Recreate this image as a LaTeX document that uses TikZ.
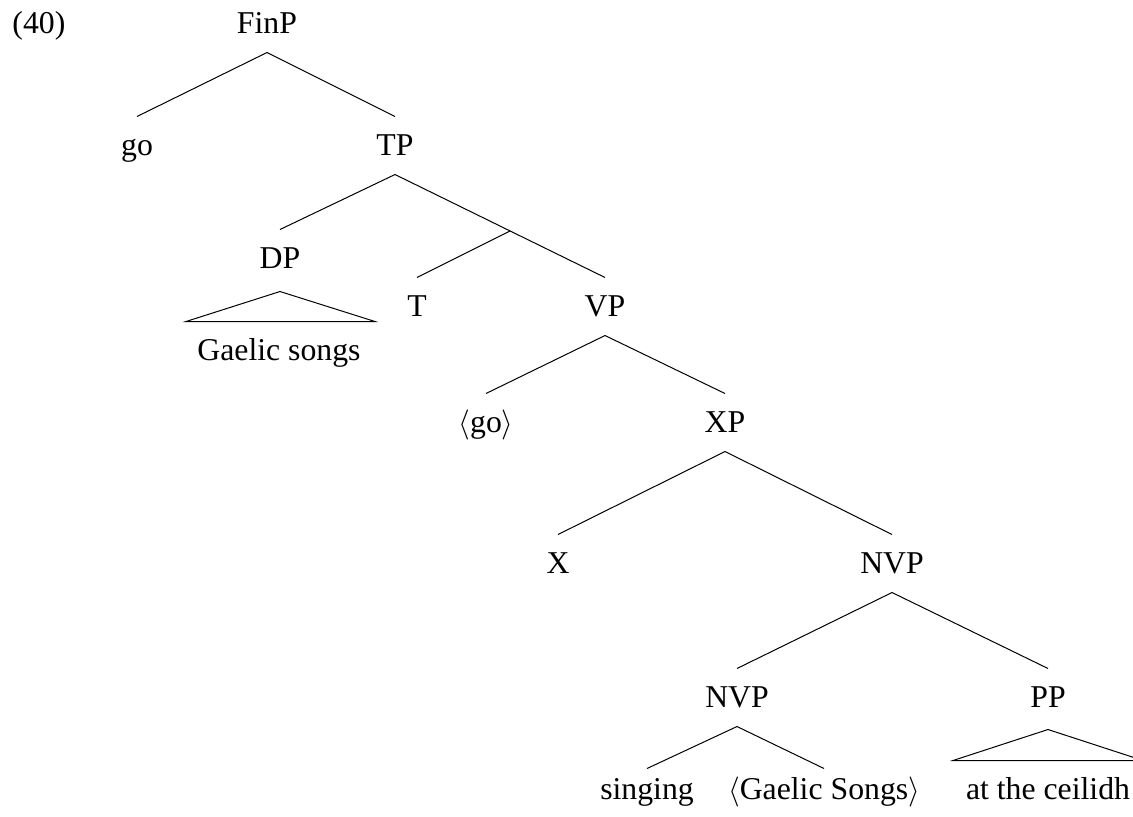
\documentclass[tikz,border=0pt]{standalone}
\usepackage{fontspec}
\setmainfont{Liberation Serif}
\usetikzlibrary{calc}
\begin{document}
\begin{tikzpicture}[x=0.4pt,y=-0.4pt,
  every node/.style={font=\fontsize{12.7pt}{15pt}\selectfont},
  cat/.style={anchor=base, inner xsep=0pt, inner ysep=4.8pt,
              text height=10.4pt, text depth=2.8pt},
  leaf/.style={cat, text height=7.2pt},
  branch/.style={line width=0.4pt},
]
\clip (0,0) rectangle (1133,816);

% example number
\node[anchor=base west, inner sep=0pt] (ex) at (12,33) {(40)};

% labels
\node[cat] (FinP) at (267,33) {FinP};
\node[cat] (go)   at (137,155) {go};
\node[cat] (TP)   at (395,155) {TP};
\node[cat] (DP)   at (280,268) {DP};
\node[cat] (gs)   at (279,360) {Gaelic songs};
\node[cat] (T)    at (417,316) {T};
\node[cat] (VP)   at (605,316) {VP};
\node[cat] (gocopy) at (486,432) {$\langle$go$\rangle$};
\node[cat] (XP)   at (725,432) {XP};
\node[cat] (X)    at (558,573) {X};
\node[cat] (NVPa) at (892,573) {NVP};
\node[cat] (NVPb) at (737,707) {NVP};
\node[cat] (PP)   at (1048,707) {PP};
\node[leaf] (sing) at (647,799) {singing};
\node[leaf] (gscopy) at (824,799) {$\langle$Gaelic Songs$\rangle$};
\node[cat] (ceil) at (1048,799) {at the ceilidh};

% unlabelled intermediate projection of TP
\coordinate (Tbar) at ($(TP.south)!0.548!(VP.north)$);

% branches
\draw[branch] (FinP.south) -- (go.north);
\draw[branch] (FinP.south) -- (TP.north);
\draw[branch] (TP.south) -- (DP.north);
\draw[branch] (TP.south) -- (Tbar) -- (VP.north);
\draw[branch] (Tbar) -- (T.north);
\draw[branch] (VP.south) -- (gocopy.north);
\draw[branch] (VP.south) -- (XP.north);
\draw[branch] (XP.south) -- (X.north);
\draw[branch] (XP.south) -- (NVPa.north);
\draw[branch] (NVPa.south) -- (NVPb.north);
\draw[branch] (NVPa.south) -- (PP.north);
\draw[branch] (NVPb.south) -- (sing.north);
\draw[branch] (NVPb.south) -- (gscopy.north);

% roofs over unanalysed phrases
\draw[branch] ($(DP.south)+(0,4)$) -- ($(gs.north)+(-93,0)$)
  -- ($(gs.north)+(96,0)$) -- cycle;
\draw[branch] ($(PP.south)+(0,3)$) -- ($(ceil.north)+(-95,0)$)
  -- ($(ceil.north)+(95,0)$) -- cycle;
\end{tikzpicture}
\end{document}
